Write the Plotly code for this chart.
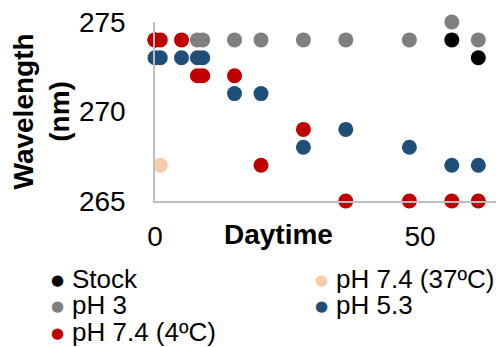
import plotly.graph_objects as go

# ---- data ----
stock_day = [0, 56, 61]
stock_wl = [274, 274, 273]

ph3_day = [0, 8, 9, 15, 20, 28, 36, 48, 56, 61]
ph3_wl = [274, 274, 274, 274, 274, 274, 274, 274, 275, 274]

ph74_4_day = [0, 1, 5, 8, 9, 15, 20, 28, 36, 48, 56, 61]
ph74_4_wl = [274, 274, 274, 272, 272, 272, 267, 269, 265, 265, 265, 265]

ph74_37_day = [1]
ph74_37_wl = [267]

ph53_day = [0, 1, 5, 8, 9, 15, 20, 28, 36, 48, 56, 61]
ph53_wl = [273, 273, 273, 273, 273, 271, 271, 268, 269, 268, 267, 267]

x_ticks = [0, 50]
y_ticks = [265, 270, 275]

series = [
    ("Stock", stock_day, stock_wl, "#000000"),
    ("pH 3", ph3_day, ph3_wl, "#7f7f7f"),
    ("pH 7.4 (4ºC)", ph74_4_day, ph74_4_wl, "#c00000"),
    ("pH 7.4 (37ºC)", ph74_37_day, ph74_37_wl, "#f8cbad"),
    ("pH 5.3", ph53_day, ph53_wl, "#1f4e79"),
]

FONT = "Arial, Liberation Sans, sans-serif"

fig = go.Figure()
for name, xs, ys, col in series:
    fig.add_trace(go.Scatter(
        x=xs, y=ys, mode="markers", name=name,
        marker=dict(size=15, color=col, line=dict(width=0)),
        cliponaxis=False, showlegend=False,
    ))

W, H = 496, 347
L, R, T, B = 155, 0, 22, 146
pw, ph = W - L - R, H - T - B

def px(xp):
    return (xp - L) / pw

def py(yp):
    return (H - B - yp) / ph

annotations = []
# x-axis title (sits on the tick label row)
annotations.append(dict(text="<b>Daytime</b>", x=px(278), y=py(235), xref="paper", yref="paper",
                        xanchor="center", yanchor="middle", showarrow=False,
                        font=dict(family=FONT, size=28, color="#000000")))
# y-axis title
annotations.append(dict(text="<b>Wavelength<br>(nm)</b>", x=px(41), y=py(111.5), xref="paper", yref="paper",
                        xanchor="center", yanchor="middle", showarrow=False, textangle=-90,
                        font=dict(family=FONT, size=28, color="#000000")))

# legend (two columns)
legend_slots = {
    "Stock": (57.5, 279),
    "pH 3": (57.5, 305),
    "pH 7.4 (4ºC)": (57.5, 331.5),
    "pH 7.4 (37ºC)": (321.7, 279),
    "pH 5.3": (321.7, 305),
}
for name, xs, ys, col in series:
    cx, cy = legend_slots[name]
    annotations.append(dict(text="●", x=px(cx), y=py(cy + 1), xref="paper", yref="paper",
                            xanchor="center", yanchor="middle", showarrow=False, borderpad=0,
                            font=dict(family="DejaVu Sans", size=15, color=col)))
    annotations.append(dict(text=name, x=px(cx + 13), y=py(cy), xref="paper", yref="paper",
                            xanchor="left", yanchor="middle", showarrow=False, borderpad=0,
                            font=dict(family=FONT, size=26, color="#000000")))

fig.update_layout(
    width=W, height=H,
    margin=dict(l=L, r=R, t=T, b=B, pad=0),
    paper_bgcolor="white", plot_bgcolor="white",
    font=dict(family=FONT, size=28, color="#000000"),
    annotations=annotations,
    showlegend=False,
    xaxis=dict(range=[0, 64.34], tickvals=x_ticks, showgrid=False, zeroline=False,
               showline=True, linecolor="#bfbfbf", linewidth=1.5,
               ticks="outside", ticklen=10, tickcolor="rgba(0,0,0,0)",
               tickfont=dict(family=FONT, size=28, color="#000000")),
    yaxis=dict(range=[265, 275], tickvals=y_ticks, showgrid=False, zeroline=False,
               showline=True, linecolor="#bfbfbf", linewidth=1.5,
               ticks="outside", ticklen=22, tickcolor="rgba(0,0,0,0)",
               tickfont=dict(family=FONT, size=28, color="#000000")),
)

fig.write_html("out.html", config={"displayModeBar": False},
               post_script="document.body.style.margin='0';document.body.style.overflow='hidden';")
